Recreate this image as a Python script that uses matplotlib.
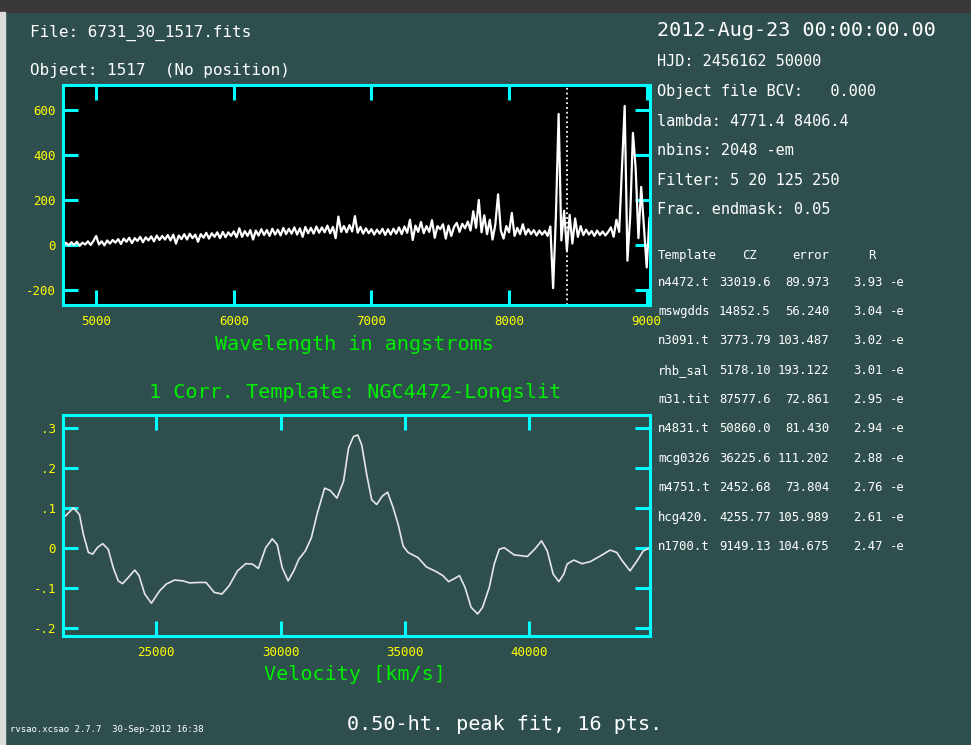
import numpy as np
import matplotlib
matplotlib.use('Agg')
import matplotlib.pyplot as plt
from matplotlib.patches import Rectangle

# spectrum (flux sampled every 20 A from 4760 A)
wave_start = 4760
wave_step = 20
flux = [
    -6, 10, -2, 12, 0, 14, -4, 10, 2, 16,
    0, 18, 40, 2, 16, -2, 20, 6, 22, 10,
    26, 4, 28, 14, 32, 8, 30, 18, 36, 12,
    34, 20, 38, 16, 42, 22, 40, 24, 44, 20,
    46, 6, 42, 26, 48, 24, 50, 30, 46, 14,
    48, 32, 54, 28, 52, 36, 56, 30, 58, 34,
    56, 40, 60, 34, 74, 36, 62, 40, 66, 24,
    64, 42, 70, 44, 66, 40, 72, 46, 68, 42,
    76, 48, 72, 50, 78, 46, 74, 36, 80, 52,
    76, 50, 82, 54, 78, 56, 86, 52, 80, 30,
    126, 58, 84, 56, 88, 60, 128, 54, 80, 50,
    74, 52, 70, 46, 68, 50, 72, 44, 70, 46,
    72, 50, 78, 48, 82, 54, 112, 22, 86, 58,
    102, 52, 84, 58, 110, 32, 84, 70, 92, 28,
    86, 40, 80, 98, 58, 94, 74, 104, 64, 150,
    76, 200, 56, 132, 48, 112, 24, 90, 225, 64,
    28, 84, 56, 142, 40, 76, 48, 92, 46, 70,
    48, 66, 42, 64, 46, 62, 40, 82, -192, 122,
    582, 20, 152, -24, 134, 6, 118, 36, 84, 44,
    68, 46, 62, 40, 64, 44, 60, 42, 58, 78,
    36, 112, 58, 338, 618, -70, 124, 498, 338, 30,
    258, 80, -100, 120,
]
line_wave = 8420

# cross-correlation
velocity = [
    21240, 21329, 21661, 21902, 22062, 22262, 22438, 22622, 22838, 23062,
    23263, 23463, 23639, 23863, 24131, 24303, 24532, 24800, 25132, 25400,
    25733, 26065, 26333, 26733, 27001, 27333, 27642, 27934, 28267, 28603,
    28867, 29107, 29403, 29667, 29867, 30067, 30307, 30535, 30735, 31002,
    31243, 31468, 31776, 32004, 32271, 32538, 32738, 32938, 33111, 33271,
    33471, 33671, 33871, 34099, 34311, 34539, 34739, 34939, 35139, 35540,
    35873, 36273, 36540, 36768, 36980, 37207, 37432, 37672, 37939, 38140,
    38407, 38607, 38807, 39008, 39408, 39941, 40233, 40513, 40741, 40981,
    41208, 41409, 41541, 41808, 42140, 42474, 42874, 43274, 43541, 43741,
    44075, 44315, 44611, 44880,
]
corr = [
    0.075, 0.079, 0.0995, 0.083, 0.033, -0.012, -0.016, 0.0, 0.010, -0.004,
    -0.050, -0.083, -0.090, -0.075, -0.056, -0.070, -0.116, -0.139, -0.108, -0.091,
    -0.081, -0.083, -0.088, -0.087, -0.087, -0.112, -0.116, -0.095, -0.058, -0.040,
    -0.041, -0.052, 0.0, 0.022, 0.008, -0.050, -0.083, -0.058, -0.029, -0.008,
    0.025, 0.083, 0.149, 0.143, 0.124, 0.166, 0.249, 0.278, 0.282, 0.257,
    0.183, 0.120, 0.108, 0.129, 0.139, 0.0995, 0.058, 0.004, -0.012, -0.025,
    -0.048, -0.060, -0.070, -0.085, -0.078, -0.070, -0.0995, -0.149, -0.166, -0.149,
    -0.0995, -0.041, -0.004, 0.0, -0.018, -0.022, -0.004, 0.017, -0.008, -0.066,
    -0.085, -0.066, -0.041, -0.031, -0.040, -0.035, -0.021, -0.006, -0.012, -0.031,
    -0.058, -0.037, -0.008, 0.0,
]

spec_xticks = [5000, 6000, 7000, 8000, 9000]
spec_yticks = [-200, 0, 200, 400, 600]
spec_ylabels = ['-200', '0', '200', '400', '600']
corr_xticks = [25000, 30000, 35000, 40000]
corr_yticks = [-0.2, -0.1, 0.0, 0.1, 0.2, 0.3]
corr_ylabels = ['-.2', '-.1', '0', '.1', '.2', '.3']

# template results table
templates = ['n4472.t', 'mswgdds', 'n3091.t', 'rhb_sal', 'm31.tit',
             'n4831.t', 'mcg0326', 'm4751.t', 'hcg420.', 'n1700.t']
cz = ['33019.6', '14852.5', '3773.79', '5178.10', '87577.6',
      '50860.0', '36225.6', '2452.68', '4255.77', '9149.13']
cz_err = ['89.973', '56.240', '103.487', '193.122', '72.861',
          '81.430', '111.202', '73.804', '105.989', '104.675']
r_val = ['3.93', '3.04', '3.02', '3.01', '2.95',
         '2.94', '2.88', '2.76', '2.61', '2.47']

header_lines = ['HJD: 2456162 50000', 'Object file BCV:   0.000',
                'lambda: 4771.4 8406.4', 'nbins: 2048 -em',
                'Filter: 5 20 125 250', 'Frac. endmask: 0.05']

BG = '#2f4f4f'
CYAN = '#00ffff'
YELLOW = '#ffff00'
GREEN = '#00ee00'
MONO = 'DejaVu Sans Mono'
W, H = 971, 745

plt.rcParams['font.family'] = MONO

fig = plt.figure(figsize=(W / 100, H / 100), dpi=100, facecolor=BG)


def px(x, y):
    return x / W, 1 - y / H


def style_axes(ax):
    for s in ax.spines.values():
        s.set_color(CYAN)
        s.set_linewidth(2.2)
    ax.tick_params(which='both', direction='in', length=11, width=2.2,
                   color=CYAN, top=True, right=True, labelcolor=YELLOW,
                   labelsize=9, pad=5)


# window decorations
fig.patches.append(Rectangle((0, 1 - 12 / H), 1, 12 / H, transform=fig.transFigure,
                             color='#3a3838', zorder=0))
fig.patches.append(Rectangle((0, 0), 5 / W, 1 - 12 / H, transform=fig.transFigure,
                             color='#dcdcdc', zorder=0))

# spectrum panel
ax1 = fig.add_axes([63 / W, 1 - 305 / H, 587 / W, 220 / H], facecolor='black')
wave = wave_start + wave_step * np.arange(len(flux))
ax1.plot(wave, flux, color='white', linewidth=1.6)
ax1.axvline(line_wave, color='white', linestyle=':', linewidth=1.3)
ax1.set_xlim(4759, 9024)
ax1.set_ylim(-267, 711)
ax1.set_xticks(spec_xticks)
ax1.set_yticks(spec_yticks, labels=spec_ylabels)
style_axes(ax1)
ax1.tick_params(axis='x', pad=7)

# correlation panel
ax2 = fig.add_axes([63 / W, 1 - 636 / H, 587 / W, 221 / H], facecolor=BG)
ax2.plot(velocity, corr, color='#e6e6e6', linewidth=1.2)
ax2.set_xlim(21240, 44880)
ax2.set_ylim(-0.221, 0.332)
ax2.set_xticks(corr_xticks)
ax2.set_yticks(corr_yticks, labels=corr_ylabels)
style_axes(ax2)
ax2.tick_params(axis='x', pad=7)

# labels
fig.text(*px(354, 344), 'Wavelength in angstroms', color=GREEN, fontsize=14.5,
         ha='center', va='center')
fig.text(*px(355, 393), '1 Corr. Template: NGC4472-Longslit', color=GREEN,
         fontsize=14.5, ha='center', va='center')
fig.text(*px(355, 674), 'Velocity [km/s]', color=GREEN, fontsize=14.5,
         ha='center', va='center')

fig.text(*px(30, 33), 'File: 6731_30_1517.fits', color='white', fontsize=11.5, va='center')
fig.text(*px(30, 70), 'Object: 1517  (No position)', color='white', fontsize=11.5, va='center')

fig.text(*px(657, 30), '2012-Aug-23 00:00:00.00', color='white', fontsize=14.5, va='center')
for i, line in enumerate(header_lines):
    fig.text(*px(657, 62 + i * 29.6), line, color='white', fontsize=11, va='center')

# table
TS = 8.8
fig.text(*px(658, 255), 'Template', color='white', fontsize=TS, va='center')
fig.text(*px(742, 255), 'CZ', color='white', fontsize=TS, va='center')
fig.text(*px(792, 255), 'error', color='white', fontsize=TS, va='center')
fig.text(*px(868, 255), 'R', color='white', fontsize=TS, va='center')
for i in range(len(templates)):
    y = 282 + i * 29.4
    fig.text(*px(658, y), templates[i], color='white', fontsize=TS, va='center')
    fig.text(*px(719, y), cz[i], color='white', fontsize=TS, va='center')
    fig.text(*px(829, y), cz_err[i], color='white', fontsize=TS, va='center', ha='right')
    fig.text(*px(853, y), r_val[i], color='white', fontsize=TS, va='center')
    fig.text(*px(890, y), '-e', color='white', fontsize=TS, va='center')

# footer
fig.text(*px(10, 729), 'rvsao.xcsao 2.7.7  30-Sep-2012 16:38', color='white',
         fontsize=6.5, va='center')
fig.text(*px(347, 725), '0.50-ht. peak fit, 16 pts.', color='white',
         fontsize=14.5, va='center')

fig.savefig('out.png', dpi=100, facecolor=fig.get_facecolor())
